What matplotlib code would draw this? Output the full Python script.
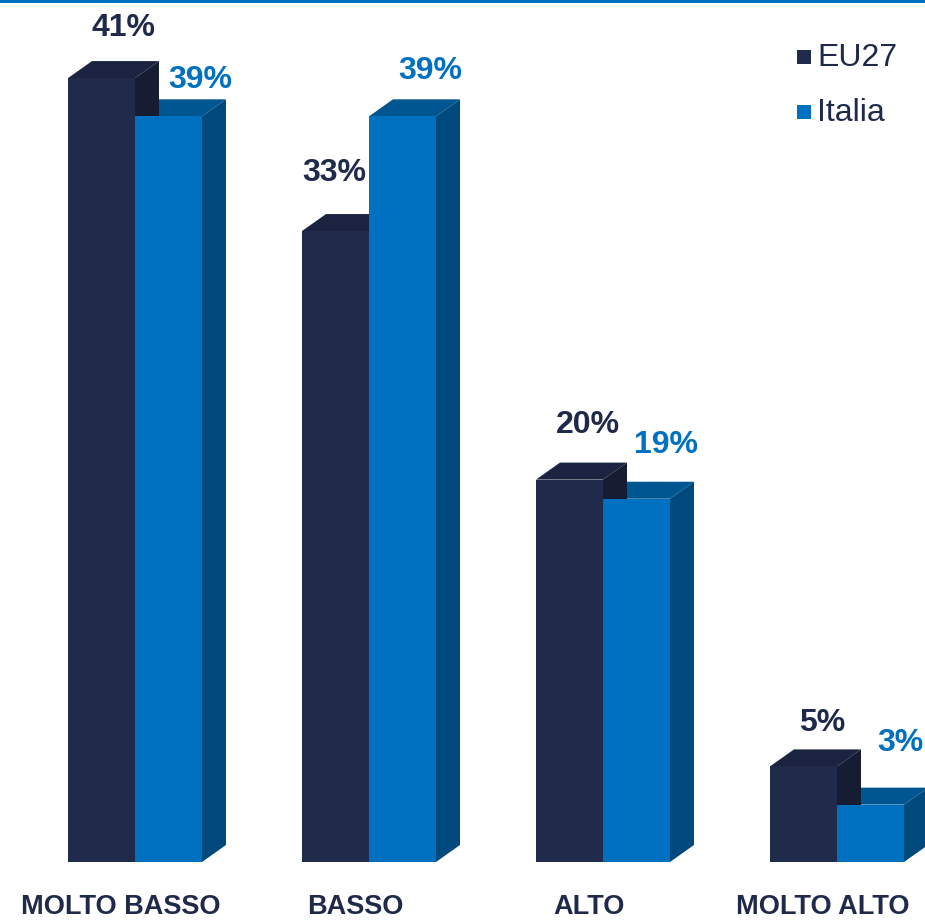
import matplotlib
matplotlib.use("Agg")
import matplotlib.pyplot as plt
from matplotlib.patches import Polygon, Rectangle
from matplotlib.lines import Line2D
import numpy as np

plt.rcParams['font.family'] = ['Liberation Sans', 'DejaVu Sans']

categories = ["MOLTO BASSO", "BASSO", "ALTO", "MOLTO ALTO"]
series_names = ["EU27", "Italia"]
eu27 = [41, 33, 20, 5]
italia = [39, 39, 19, 3]

# colours: front, top, side
EU_COLS = ("#202A4B", "#1B2340", "#161C32")
IT_COLS = ("#0070C0", "#005691", "#00497D")
TXT_DARK = "#1F2A4A"

W, H, DPI = 925, 921, 100
BASE_PX = 862          # baseline row in pixels
PX_PER_PCT = 19.12     # vertical scale
GROUP_PX = 234         # group spacing in pixels

fig = plt.figure(figsize=(W / DPI, H / DPI), dpi=DPI)
ax = fig.add_axes([0, (H - BASE_PX) / H, 1, BASE_PX / H])
ax.set_xlim(0, W / GROUP_PX)
ax.set_ylim(0, BASE_PX / PX_PER_PCT)
ax.axis("off")

bar_w = 67 / GROUP_PX
depth_x = 24 / GROUP_PX
depth_y = 17 / PX_PER_PCT
first_left = 68 / GROUP_PX

x = np.arange(len(categories))


def draw_3d_bars(lefts, values, cols):
    front, top, side = cols
    ax.bar(lefts, values, width=bar_w, align="edge", color=front,
           linewidth=0, zorder=3)
    for l, v in zip(lefts, values):
        r = l + bar_w
        ax.add_patch(Polygon([(l, v), (r, v), (r + depth_x, v + depth_y),
                              (l + depth_x, v + depth_y)],
                             closed=True, facecolor=top, edgecolor="none",
                             zorder=2))
        ax.add_patch(Polygon([(r, 0), (r + depth_x, depth_y),
                              (r + depth_x, v + depth_y), (r, v)],
                             closed=True, facecolor=side, edgecolor="none",
                             zorder=2))


eu_left = x + first_left
it_left = eu_left + bar_w
# Italia bars behind EU27 side faces
draw_3d_bars(it_left, italia, IT_COLS)
draw_3d_bars(eu_left, eu27, EU_COLS)

# value labels: offsets (pixels) from the bar's front-left top corner
eu_off = [(56, 50), (32, 58), (52, 55), (52, 43)]
it_off = [(65, 36), (61, 45), (63, 54), (63, 62)]
k = 72 / DPI
for l, v, (dx, dy) in zip(eu_left, eu27, eu_off):
    ax.annotate(f"{v}%", xy=(l, v), xytext=(dx * k, dy * k),
                textcoords="offset points", ha="center", va="center",
                fontsize=23, fontweight="bold", color=TXT_DARK,
                annotation_clip=False)
for l, v, (dx, dy) in zip(it_left, italia, it_off):
    ax.annotate(f"{v}%", xy=(l, v), xytext=(dx * k, dy * k),
                textcoords="offset points", ha="center", va="center",
                fontsize=23, fontweight="bold", color="#0070C0",
                annotation_clip=False)

# category labels under each group
for l, c in zip(eu_left, categories):
    ax.annotate(c, xy=(l + bar_w, 0), xytext=(-14 * k, -45 * k),
                textcoords="offset points", ha="center", va="center",
                fontsize=19.5, fontweight="bold", color=TXT_DARK,
                annotation_clip=False)

# legend
for i, (name, col) in enumerate(zip(series_names, (EU_COLS[0], IT_COLS[0]))):
    cy = 57 + 55 * i
    fig.add_artist(Rectangle((797 / W, 1 - (cy + 7) / H), 14 / W, 14 / H,
                             transform=fig.transFigure, facecolor=col,
                             edgecolor="none"))
    fig.text(817 / W, 1 - (cy + 1) / H, name, ha="left", va="center",
             fontsize=23, color=TXT_DARK)

# top rule
fig.add_artist(Line2D([0, 1], [1 - 1.5 / H] * 2, transform=fig.transFigure,
                      color="#0070C0", linewidth=3 * k))

fig.savefig("out.png", dpi=DPI)
